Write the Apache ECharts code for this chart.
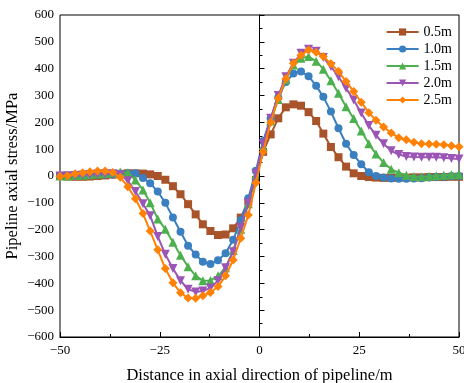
<!DOCTYPE html>
<html>
<head>
<meta charset="utf-8">
<script src="https://cdn.jsdelivr.net/npm/echarts@6/dist/echarts.min.js"></script>
<style>html,body{margin:0;padding:0;background:#fff}#c{width:464px;height:383px}</style>
</head>
<body>
<div id="c"></div>
<script>
const xs = [-50.0,-48.1,-46.2,-44.3,-42.5,-40.6,-38.7,-36.8,-34.9,-33.0,-31.1,-29.2,-27.4,-25.5,-23.6,-21.7,-19.8,-17.9,-16.0,-14.2,-12.3,-10.4,-8.5,-6.6,-4.7,-2.8,-0.9,0.9,2.8,4.7,6.6,8.5,10.4,12.3,14.2,16.0,17.9,19.8,21.7,23.6,25.5,27.4,29.2,31.1,33.0,34.9,36.8,38.7,40.6,42.5,44.3,46.2,48.1,50.0];
const s05 = [0,-2,-3,-3,-2,0,2,5,8,10,10,9,6,0,-14,-38,-68,-105,-143,-180,-205,-220,-218,-195,-155,-95,-15,90,155,215,256,267,262,238,205,158,108,70,35,10,0,-4,-6,-7,-7,-6,-6,-5,-5,-4,-4,-4,-3,-3];
const s10 = [0,2,3,3,4,5,5,6,8,10,10,-7,-27,-58,-100,-155,-208,-260,-293,-320,-328,-314,-288,-238,-165,-83,20,130,215,293,350,382,389,372,336,295,240,178,120,78,44,14,0,-6,-9,-10,-10,-9,-8,-6,-4,-3,-1,0];
const s15 = [0,0,2,3,5,7,9,12,15,12,-15,-52,-100,-160,-198,-247,-295,-338,-372,-390,-389,-372,-342,-278,-198,-103,5,110,205,285,360,414,439,445,428,398,355,308,258,214,168,120,82,50,25,12,3,-2,-3,-1,1,3,5,6];
const s20 = [0,1,2,4,6,7,8,8,5,-18,-58,-103,-148,-225,-292,-345,-390,-422,-432,-429,-417,-390,-342,-282,-192,-100,10,120,215,300,370,420,457,472,465,442,408,370,327,283,235,188,152,120,94,80,73,71,70,70,70,68,65,63];
const s25 = [-2,1,8,12,16,19,19,13,-5,-40,-85,-140,-205,-275,-345,-398,-435,-455,-456,-446,-434,-412,-372,-313,-232,-145,-25,90,200,290,362,420,450,470,461,445,418,390,352,315,275,236,208,183,160,143,135,126,120,119,118,116,113,109];
const names = ['0.5m','1.0m','1.5m','2.0m','2.5m'];
const xTicks = [-50,-25,0,25,50];
const yTicks = [-600,-500,-400,-300,-200,-100,0,100,200,300,400,500,600];

const seriesData = [s05,s10,s15,s20,s25];
const colors = ['#A8532A','#3A7FC0','#4DB04F','#9A55B5','#FF8206'];
const symbols = ['rect','circle','triangle','triangle','diamond'];
const rotates = [0,0,0,180,0];
const sizes = [8,8,9,9,9];
const font = '"Liberation Serif","Times New Roman",serif';
const fmt = v => String(v).replace('-', '\u2212');

const series = seriesData.map((arr,i) => ({
  name: names[i],
  type: 'line',
  data: xs.map((x,j) => [x, arr[j]]),
  symbol: symbols[i],
  symbolRotate: rotates[i],
  symbolSize: sizes[i],
  showAllSymbol: true,
  lineStyle: {color: colors[i], width: 2},
  itemStyle: {color: colors[i]},
  z: 2 + i,
  animation: false
}));
series[0].markLine = {
  silent: true, symbol: 'none', label: {show: false}, animation: false,
  lineStyle: {color: '#000', width: 1, type: [7,2,1,2]},
  data: [{xAxis: 0}]
};

const chart = echarts.init(document.getElementById('c'), null, {renderer: 'canvas'});
chart.setOption({
  animation: false,
  backgroundColor: '#fff',
  grid: {left: 60, right: 5, top: 15, bottom: 46, show: true, borderColor: '#000', borderWidth: 1,
         containLabel: false, outerBoundsMode: 'none'},
  legend: {
    data: names, orient: 'vertical', right: 7, top: 20, itemWidth: 32, itemHeight: 9, itemGap: 3,
    textStyle: {fontFamily: font, fontSize: 14, color: '#000'}
  },
  xAxis: {
    type: 'value', min: xTicks[0], max: xTicks[xTicks.length-1], interval: 25,
    name: 'Distance in axial direction of pipeline/m', nameLocation: 'middle', nameGap: 30,
    nameMoveOverlap: false,
    nameTextStyle: {fontFamily: font, fontSize: 16.5, color: '#000'},
    axisLine: {show: true, onZero: false, lineStyle: {color: '#000', width: 1}},
    axisTick: {show: true, inside: true, length: 5, lineStyle: {color: '#000'}},
    minorTick: {show: true, splitNumber: 2, length: 3, lineStyle: {color: '#000'}},
    splitLine: {show: false},
    axisLabel: {fontFamily: font, fontSize: 13, color: '#000', margin: 7, formatter: fmt}
  },
  yAxis: {
    type: 'value', min: yTicks[0], max: yTicks[yTicks.length-1], interval: 100,
    name: 'Pipeline axial stress/MPa', nameLocation: 'middle', nameGap: 39,
    nameMoveOverlap: false,
    nameTextStyle: {fontFamily: font, fontSize: 16.5, color: '#000'},
    axisLine: {show: true, lineStyle: {color: '#000', width: 1}},
    axisTick: {show: true, inside: true, length: 5, lineStyle: {color: '#000'}},
    minorTick: {show: true, splitNumber: 2, length: 3, lineStyle: {color: '#000'}},
    splitLine: {show: false},
    axisLabel: {fontFamily: font, fontSize: 13, color: '#000', margin: 6, formatter: fmt}
  },
  series: series
});
</script>
</body>
</html>
